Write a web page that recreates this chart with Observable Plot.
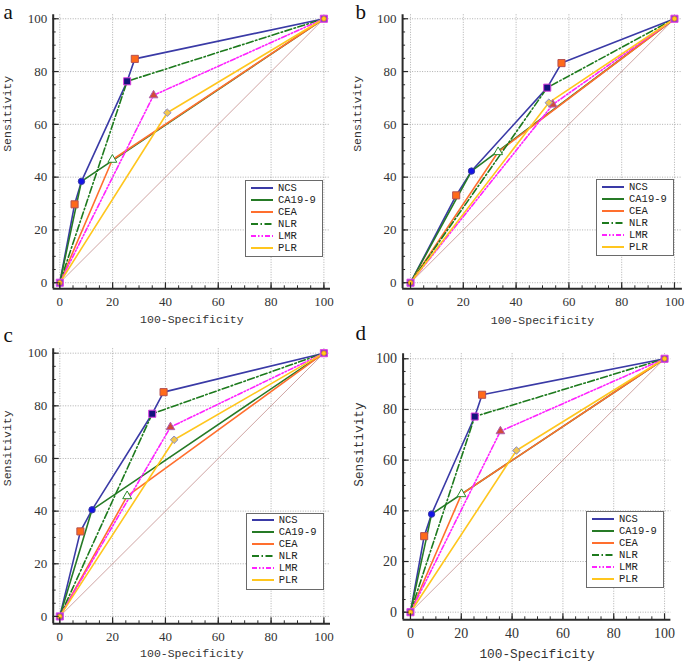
<!DOCTYPE html>
<html><head><meta charset="utf-8">
<script src="https://cdn.jsdelivr.net/npm/d3@7"></script>
<script src="https://cdn.jsdelivr.net/npm/@observablehq/plot@0.6"></script>
<style>
body{margin:0;background:#fff;}
#wrap{position:relative;width:685px;height:661px;overflow:hidden;background:#fff;}
.panel{position:absolute;}
.legend{position:absolute;background:#fff;border:1px solid #6a6a6a;box-sizing:border-box;font-family:"Liberation Mono",monospace;color:#222;}
.legend .row{position:absolute;left:0;height:12px;line-height:12px;white-space:nowrap;}
.legend svg{position:absolute;top:0;}
.legend span{position:absolute;top:0;}
</style></head><body><div id="wrap"></div>
<script>
// ---------- data ----------
const series = ["NCS", "CA19-9", "CEA", "NLR", "LMR", "PLR"];
const panelLetters = ["a", "b", "c", "d"];
const majorTicks = [0, 20, 40, 60, 80, 100];
const minorTicks = [0, 5, 10, 15, 20, 25, 30, 35, 40, 45, 50, 55, 60, 65, 70, 75, 80, 85, 90, 95, 100];
const diagonal = [[0, 0], [100, 100]];
const startEnd = [[0, 0], [100, 100]];

// NCS ROC points (100-Specificity, Sensitivity) per panel
const ncsA = [[0, 0], [5.6, 29.7], [8.2, 38.4], [25.5, 76.3], [28.4, 84.8], [100, 100]];
const ncsB = [[0, 0], [17.3, 33.1], [23.1, 42.3], [51.8, 73.9], [57.2, 83.2], [100, 100]];
const ncsC = [[0, 0], [7.8, 32.3], [12.2, 40.5], [35.0, 77.0], [39.3, 85.2], [100, 100]];
const ncsD = [[0, 0], [5.4, 30.0], [8.3, 38.7], [25.3, 77.2], [28.2, 85.8], [100, 100]];

// single cut-off point for CA19-9, CEA, NLR, LMR, PLR per panel
const cutA = [[8.2, 38.4], [19.9, 46.6], [25.5, 76.3], [35.5, 71.0], [40.7, 64.4]];
const cutB = [[23.1, 42.3], [33.2, 49.5], [51.8, 73.9], [53.9, 67.5], [52.4, 68.2]];
const cutC = [[12.2, 40.5], [25.5, 45.7], [35.0, 77.0], [41.9, 71.9], [43.3, 67.1]];
const cutD = [[8.3, 38.7], [20.1, 46.6], [25.3, 77.2], [35.4, 71.4], [41.7, 63.8]];

// ---------- styles ----------
const lineStyle = {
  "NCS":    {stroke: "#3a3aa6", dash: null},
  "CA19-9": {stroke: "#267a26", dash: null},
  "CEA":    {stroke: "#ff6f2e", dash: null},
  "NLR":    {stroke: "#1d7a1d", dash: "7,2.5,1.5,2.5"},
  "LMR":    {stroke: "#ff22ff", dash: "5,2,1.5,2,1.5,2"},
  "PLR":    {stroke: "#ffc61e", dash: null}
};
const markerStyle = {
  "NCS":    {symbol: "square",   r: 4.0, fill: "#ff6a1a", stroke: "#b55050"},
  "CA19-9": {symbol: "circle",   r: 3.2, fill: "#1414e6", stroke: "#3a3aa6"},
  "CEA":    {symbol: "triangle", r: 3.3, fill: "#ffffff", stroke: "#2a8a2a"},
  "NLR":    {symbol: "square",   r: 4.0, fill: "#12127c", stroke: "#e040e0"},
  "LMR":    {symbol: "triangle", r: 3.2, fill: "#d24a3a", stroke: "#b060b0"},
  "PLR":    {symbol: "diamond2", r: 3.4, fill: "#f2c84e", stroke: "#8888c8"}
};

const panels = [
  {ncs: ncsA, cut: cutA, left: 0, top: 0, width: 340, height: 330,
   xDom: [-2.5, 102.5], yDom: [-2.3, 101.5], ml: 52.7, mr: 10, mt: 14.3, mb: 41.7,
   font: 13, tfont: 11.5, xtDy: 30.7, ytDx: -46.2, letDx: -49.7, letDy: 4.5,
   legend: {left: 245, top: 180, w: 78, h: 77}},
  {ncs: ncsB, cut: cutB, left: 340, top: 0, width: 345, height: 330,
   xDom: [-3, 103], yDom: [-2.3, 101.5], ml: 62.1, mr: 3.1, mt: 14.3, mb: 41.7,
   font: 13, tfont: 11.5, xtDy: 31.7, ytDx: -44.8, letDx: -47.1, letDy: 4.2,
   legend: {left: 596, top: 179, w: 78, h: 77}},
  {ncs: ncsC, cut: cutC, left: 0, top: 330, width: 340, height: 331,
   xDom: [-2.5, 102.5], yDom: [-2.8, 101.7], ml: 52.7, mr: 10, mt: 18.2, mb: 37.7,
   font: 13, tfont: 11.5, xtDy: 30, ytDx: -45.7, letDx: -49.7, letDy: -6.5,
   legend: {left: 245.7, top: 512.7, w: 78.6, h: 77}},
  {ncs: ncsD, cut: cutD, left: 340, top: 330, width: 345, height: 331,
   xDom: [-2.9, 102.5], yDom: [-3, 102], ml: 62.6, mr: 14.6, mt: 23.2, mb: 41.7,
   font: 14, tfont: 12.8, xtDy: 34, ytDx: -44.3, letDx: -47.6, letDy: -13.5,
   legend: {left: 586, top: 511, w: 78, h: 77}}
];

const wrap = document.getElementById("wrap");

panels.forEach((p, pi) => {
  const rows = [];
  p.ncs.forEach(([x, y]) => rows.push({series: "NCS", x, y}));
  series.slice(1).forEach((s, i) => {
    const [cx, cy] = p.cut[i];
    rows.push({series: s, x: 0, y: 0});
    rows.push({series: s, x: cx, y: cy});
    rows.push({series: s, x: 100, y: 100});
  });
  const diag = diagonal.map(([x, y]) => ({x, y}));
  const ncsOwn = p.ncs.filter(([x, y], i) => i > 0 && i < p.ncs.length - 1 &&
      !p.cut.some(([cx, cy]) => cx === x && cy === y)).map(([x, y]) => ({x, y}));
  const cutPts = p.cut.map(([x, y], i) => ({series: series[i + 1], x, y}));
  const ends = startEnd.map(([x, y]) => ({x, y}));

  const lineMarks = series.map(s => Plot.line(rows.filter(r => r.series === s), {
    x: "x", y: "y", stroke: lineStyle[s].stroke, strokeWidth: 1.6,
    strokeDasharray: lineStyle[s].dash, strokeLinejoin: "round"
  }));
  const markerMarks = [
    Plot.dot(ncsOwn, {x: "x", y: "y", ...markerStyle["NCS"], strokeWidth: 1}),
    ...cutPts.map(d => Plot.dot([d], {x: "x", y: "y", ...markerStyle[d.series], strokeWidth: 1}))
  ];

  const axisFont = "'Liberation Serif', 'Times New Roman', serif";
  const titleFont = "'Liberation Mono', 'Courier New', monospace";

  const chart = Plot.plot({
    width: p.width, height: p.height,
    marginLeft: p.ml, marginRight: p.mr, marginTop: p.mt, marginBottom: p.mb,
    style: {background: "#fff", overflow: "visible"},
    x: {domain: p.xDom},
    y: {domain: p.yDom},
    marks: [
      Plot.gridX(majorTicks, {stroke: "#9a9a9a", strokeOpacity: 1, strokeWidth: 0.8, strokeDasharray: "1,1.5"}),
      Plot.gridY(majorTicks, {stroke: "#9a9a9a", strokeOpacity: 1, strokeWidth: 0.8, strokeDasharray: "1,1.5"}),
      Plot.line(diag, {x: "x", y: "y", stroke: "#c99a98", strokeWidth: 0.9}),
      ...lineMarks,
      ...markerMarks,
      Plot.dot(ends, {x: "x", y: "y", symbol: "square", r: 4.0, fill: "#8f3fc8", stroke: "#e23ee2", strokeWidth: 1}),
      Plot.dot(ends, {x: "x", y: "y", symbol: "circle", r: 2.2, fill: "#ffd21a", stroke: "#f08a10", strokeWidth: 0.8}),
      Plot.ruleX([p.xDom[0]], {stroke: "#2a2a2a", strokeWidth: 2}),
      Plot.ruleY([p.yDom[0]], {stroke: "#2a2a2a", strokeWidth: 2}),
      Plot.axisX(majorTicks, {anchor: "bottom", tickSize: 6, dy: -6, tickFormat: () => "", label: null, stroke: "#2a2a2a", strokeWidth: 1.2}),
      Plot.axisX(minorTicks, {anchor: "bottom", tickSize: 3, dy: -3, tickFormat: () => "", label: null, stroke: "#2a2a2a", strokeWidth: 1}),
      Plot.axisY(majorTicks, {anchor: "left", tickSize: 6, dx: 6, tickFormat: () => "", label: null, stroke: "#2a2a2a", strokeWidth: 1.2}),
      Plot.axisY(minorTicks, {anchor: "left", tickSize: 3, dx: 3, tickFormat: () => "", label: null, stroke: "#2a2a2a", strokeWidth: 1}),
      Plot.axisX(majorTicks, {anchor: "bottom", tickSize: 0, tickPadding: 8, label: null, fontSize: p.font, fontFamily: axisFont, color: "#333"}),
      Plot.axisY(majorTicks, {anchor: "left", tickSize: 0, tickPadding: 6, label: null, fontSize: p.font, fontFamily: axisFont, color: "#333"}),
      Plot.text(["100-Specificity"], {frameAnchor: "bottom", dy: p.xtDy, fontFamily: titleFont, fontSize: p.tfont, fill: "#333", lineAnchor: "middle"}),
      Plot.text(["Sensitivity"], {frameAnchor: "left", dx: p.ytDx, rotate: -90, fontFamily: titleFont, fontSize: p.tfont, fill: "#333", lineAnchor: "middle"}),
      Plot.text([panelLetters[pi]], {frameAnchor: "top-left", dx: p.letDx, dy: p.letDy, textAnchor: "start", lineAnchor: "bottom", fontFamily: axisFont, fontSize: 21, fill: "#111"})
    ]
  });
  const holder = document.createElement("div");
  holder.className = "panel";
  holder.style.left = p.left + "px";
  holder.style.top = p.top + "px";
  holder.appendChild(chart);
  wrap.appendChild(holder);

  const lg = document.createElement("div");
  lg.className = "legend";
  lg.style.left = p.legend.left + "px";
  lg.style.top = p.legend.top + "px";
  lg.style.width = p.legend.w + "px";
  lg.style.height = p.legend.h + "px";
  lg.style.fontSize = "10.5px";
  series.forEach((s, i) => {
    const row = document.createElement("div");
    row.className = "row";
    row.style.top = (0.7 + 12 * i) + "px";
    row.style.width = "100%";
    const st = lineStyle[s];
    row.innerHTML = `<svg width="30" height="12" style="left:4px"><line x1="1" x2="23" y1="6" y2="6" stroke="${st.stroke}" stroke-width="2" ${st.dash ? `stroke-dasharray="${st.dash}"` : ""}/></svg><span style="left:32px">${s}</span>`;
    lg.appendChild(row);
  });
  wrap.appendChild(lg);
});
</script>
</body></html>
